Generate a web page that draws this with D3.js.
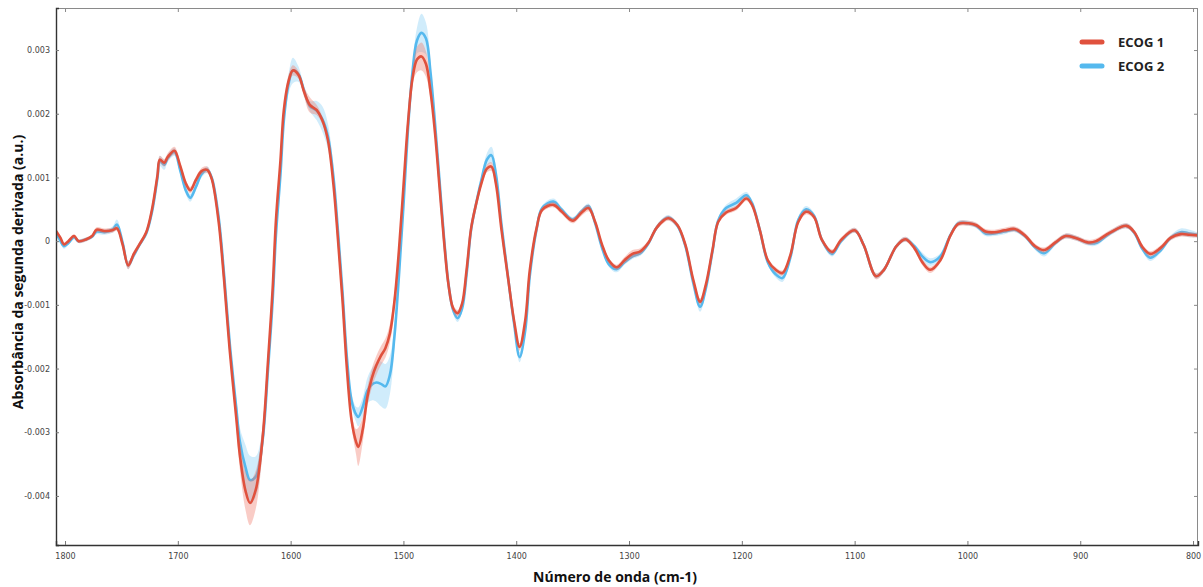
<!DOCTYPE html>
<html>
<head>
<meta charset="utf-8">
<script src="https://cdn.jsdelivr.net/npm/d3@7"></script>
<style>
  html, body { margin: 0; padding: 0; background: #fff; }
  svg { display: block; }
</style>
</head>
<body>
<svg id="chart" width="1203" height="587"></svg>
<script>
// Second-derivative FTIR spectra, mean ± SD for two groups (values in 10⁻³ a.u.)
const wavenumbers = [
  1808,1804,1801,1797,1792,1788,1781,1776,1772,1765,
  1758,1754,1749,1744,1739,1734,1728,1723,1718,1716,
  1712,1709,1703,1698,1693,1689,1684,1679,1674,1670,
  1664,1659,1654,1648,1645,1640,1636,1631,1625,1620,
  1616,1613,1609,1606,1602,1598,1593,1588,1583,1577,
  1572,1567,1562,1558,1554,1550,1546,1542,1540,1536,
  1532,1528,1524,1520,1516,1512,1508,1504,1500,1496,
  1492,1488,1484,1480,1476,1472,1468,1464,1460,1456,
  1452,1448,1444,1440,1436,1431,1426,1422,1418,1413,
  1407,1402,1397,1392,1388,1382,1377,1367,1360,1350,
  1342,1336,1330,1324,1318,1311,1304,1297,1290,1283,
  1276,1269,1265,1257,1250,1243,1237,1232,1226,1221,
  1214,1205,1196,1191,1184,1177,1170,1164,1157,1150,
  1143,1136,1129,1120,1112,1100,1092,1081,1074,1063,
  1055,1047,1040,1033,1024,1015,1008,999,992,984,
  976,967,958,949,940,932,922,913,904,893,
  886,874,859,852,845,838,829,820,811,803,
  796
];

const ecog1 = [
  0.16,0.05,-0.05,0.00,0.08,0.00,0.03,0.08,0.18,0.16,
  0.17,0.20,-0.05,-0.38,-0.20,-0.05,0.14,0.49,1.04,1.28,
  1.23,1.32,1.42,1.19,0.91,0.80,0.96,1.10,1.12,0.98,
  0.33,-0.61,-1.71,-2.81,-3.36,-3.92,-4.11,-3.91,-3.12,-1.87,
  -0.77,0.33,1.27,2.06,2.50,2.68,2.61,2.34,2.14,2.06,
  1.90,1.59,0.88,0.02,-0.93,-2.03,-2.81,-3.15,-3.23,-2.95,
  -2.45,-2.15,-1.95,-1.80,-1.68,-1.45,-0.95,-0.15,0.85,1.85,
  2.55,2.85,2.90,2.78,2.35,1.70,0.85,0.00,-0.69,-1.05,
  -1.13,-0.98,-0.45,0.20,0.55,0.90,1.14,1.17,0.90,0.17,
  -0.61,-1.24,-1.66,-1.24,-0.46,0.20,0.49,0.57,0.47,0.32,
  0.45,0.52,0.30,-0.05,-0.30,-0.41,-0.30,-0.20,-0.16,-0.03,
  0.20,0.33,0.36,0.25,-0.06,-0.61,-0.95,-0.69,-0.14,0.30,
  0.45,0.52,0.67,0.57,0.17,-0.30,-0.45,-0.50,-0.22,0.30,
  0.46,0.38,0.02,-0.17,0.02,0.17,-0.06,-0.55,-0.45,-0.08,
  0.03,-0.11,-0.33,-0.45,-0.30,0.09,0.27,0.28,0.25,0.15,
  0.14,0.17,0.19,0.09,-0.08,-0.14,-0.02,0.08,0.05,-0.02,
  0.00,0.13,0.24,0.14,-0.09,-0.20,-0.11,0.05,0.11,0.10,
  0.09
];

const ecog2 = [
  0.14,0.00,-0.08,-0.03,0.06,0.00,0.03,0.07,0.15,0.14,
  0.18,0.26,-0.02,-0.38,-0.22,-0.06,0.12,0.45,1.00,1.26,
  1.20,1.30,1.40,1.12,0.80,0.68,0.85,1.05,1.12,1.00,
  0.40,-0.52,-1.60,-2.65,-3.15,-3.55,-3.75,-3.70,-3.15,-2.00,
  -0.95,0.10,1.05,1.90,2.45,2.68,2.62,2.36,2.12,2.05,
  1.92,1.65,1.00,0.15,-0.80,-1.85,-2.50,-2.72,-2.76,-2.60,
  -2.35,-2.25,-2.22,-2.24,-2.28,-2.10,-1.50,-0.55,0.55,1.75,
  2.65,3.15,3.27,3.18,2.65,1.85,0.95,0.05,-0.68,-1.08,
  -1.21,-1.06,-0.52,0.18,0.55,0.95,1.28,1.35,1.05,0.25,
  -0.60,-1.28,-1.82,-1.40,-0.55,0.18,0.52,0.62,0.50,0.34,
  0.47,0.55,0.28,-0.10,-0.36,-0.44,-0.33,-0.24,-0.19,-0.04,
  0.20,0.34,0.37,0.24,-0.08,-0.66,-1.03,-0.75,-0.16,0.32,
  0.52,0.60,0.72,0.60,0.17,-0.33,-0.52,-0.58,-0.26,0.33,
  0.50,0.40,0.02,-0.20,0.00,0.17,-0.06,-0.55,-0.45,-0.08,
  0.03,-0.08,-0.24,-0.33,-0.24,0.10,0.28,0.28,0.24,0.12,
  0.12,0.15,0.18,0.08,-0.10,-0.19,-0.03,0.08,0.05,-0.03,
  -0.03,0.12,0.24,0.13,-0.12,-0.26,-0.15,0.05,0.14,0.12,
  0.10
];

const ecog1Sd = [
  0.03,0.03,0.03,0.03,0.03,0.03,0.03,0.03,0.04,0.04,
  0.04,0.04,0.05,0.06,0.05,0.04,0.04,0.05,0.06,0.06,
  0.06,0.06,0.06,0.05,0.05,0.05,0.05,0.05,0.05,0.05,
  0.06,0.08,0.10,0.15,0.22,0.30,0.35,0.30,0.20,0.12,
  0.10,0.10,0.10,0.10,0.10,0.08,0.06,0.08,0.12,0.08,
  0.06,0.06,0.06,0.06,0.08,0.08,0.10,0.20,0.30,0.20,
  0.15,0.15,0.15,0.15,0.15,0.15,0.15,0.12,0.08,0.08,
  0.10,0.20,0.22,0.20,0.12,0.08,0.06,0.05,0.05,0.05,
  0.05,0.05,0.05,0.05,0.05,0.05,0.06,0.07,0.06,0.05,
  0.05,0.05,0.06,0.05,0.05,0.04,0.04,0.04,0.04,0.04,
  0.05,0.05,0.04,0.04,0.04,0.04,0.05,0.06,0.05,0.04,
  0.04,0.04,0.04,0.04,0.04,0.05,0.05,0.05,0.04,0.04,
  0.04,0.04,0.04,0.04,0.04,0.04,0.04,0.04,0.04,0.04,
  0.04,0.04,0.04,0.04,0.04,0.04,0.04,0.05,0.04,0.04,
  0.04,0.04,0.05,0.05,0.04,0.04,0.04,0.04,0.04,0.04,
  0.04,0.04,0.04,0.04,0.04,0.04,0.04,0.04,0.04,0.04,
  0.04,0.04,0.04,0.04,0.04,0.04,0.04,0.04,0.04,0.04,
  0.04
];

const ecog2Sd = [
  0.03,0.04,0.04,0.03,0.03,0.03,0.03,0.03,0.04,0.04,
  0.05,0.08,0.05,0.06,0.05,0.04,0.04,0.05,0.06,0.08,
  0.08,0.06,0.06,0.06,0.06,0.06,0.05,0.05,0.05,0.05,
  0.06,0.08,0.10,0.15,0.22,0.35,0.38,0.32,0.20,0.12,
  0.10,0.10,0.10,0.12,0.15,0.20,0.12,0.06,0.08,0.15,
  0.20,0.20,0.15,0.10,0.08,0.08,0.10,0.12,0.15,0.15,
  0.20,0.25,0.30,0.35,0.35,0.30,0.20,0.12,0.08,0.08,
  0.12,0.20,0.30,0.25,0.15,0.10,0.06,0.05,0.05,0.06,
  0.06,0.05,0.05,0.05,0.05,0.06,0.10,0.13,0.10,0.06,
  0.05,0.06,0.08,0.06,0.05,0.04,0.04,0.05,0.04,0.04,
  0.04,0.04,0.04,0.04,0.04,0.05,0.04,0.04,0.04,0.04,
  0.04,0.04,0.04,0.04,0.04,0.05,0.08,0.06,0.04,0.04,
  0.05,0.07,0.05,0.04,0.04,0.04,0.05,0.06,0.04,0.05,
  0.05,0.04,0.04,0.04,0.04,0.04,0.04,0.04,0.04,0.04,
  0.04,0.04,0.06,0.06,0.05,0.04,0.04,0.04,0.04,0.04,
  0.04,0.04,0.04,0.04,0.04,0.05,0.04,0.04,0.04,0.04,
  0.04,0.04,0.04,0.04,0.04,0.05,0.04,0.04,0.06,0.06,
  0.04
];

const seriesNames = ["ECOG 1", "ECOG 2"];
const xTickValues = [1800, 1700, 1600, 1500, 1400, 1300, 1200, 1100, 1000, 900, 800];
const yTickValues = [-4, -3, -2, -1, 0, 1, 2, 3];
const yTickLabels = ["-0.004", "-0.003", "-0.002", "-0.001", "0", "0.001", "0.002", "0.003"];

const colors = {
  "ECOG 1": { line: "#e0513d", band: "rgba(238,120,105,0.38)" },
  "ECOG 2": { line: "#55b9ee", band: "rgba(110,195,242,0.32)" }
};

const svg = d3.select("#chart");
const plot = { left: 56, right: 1198, top: 8, bottom: 545 };

const x = d3.scaleLinear().domain([1808, 795.6]).range([plot.left, plot.right]);
const y = d3.scaleLinear().domain([-4.77, 3.66]).range([plot.bottom, plot.top]);

const build = (vals, sds) => wavenumbers.map((w, i) => ({ w, v: vals[i], sd: sds[i] }));
const series = [
  { name: "ECOG 2", data: build(ecog2, ecog2Sd) },
  { name: "ECOG 1", data: build(ecog1, ecog1Sd) }
];

svg.append("defs").append("clipPath").attr("id", "plot-clip")
  .append("rect")
  .attr("x", plot.left).attr("y", plot.top)
  .attr("width", plot.right - plot.left).attr("height", plot.bottom - plot.top);

const curve = d3.curveCatmullRom.alpha(0.5);
const line = d3.line().x(d => x(d.w)).y(d => y(d.v)).curve(curve);
const band = d3.area().x(d => x(d.w)).y0(d => y(d.v - d.sd)).y1(d => y(d.v + d.sd)).curve(curve);

const g = svg.append("g").attr("clip-path", "url(#plot-clip)");
series.forEach(s => {
  g.append("path").attr("d", band(s.data)).attr("fill", colors[s.name].band).attr("stroke", "none");
  g.append("path").attr("d", line(s.data)).attr("fill", "none")
    .attr("stroke", colors[s.name].line).attr("stroke-width", 2.6)
    .attr("stroke-linejoin", "round").attr("stroke-linecap", "round");
});

// Frame
svg.append("line").attr("x1", plot.left).attr("x2", plot.right).attr("y1", plot.top + 0.5).attr("y2", plot.top + 0.5)
  .attr("stroke", "#8a8a8a").attr("stroke-width", 1);
svg.append("line").attr("x1", plot.right - 0.5).attr("x2", plot.right - 0.5).attr("y1", plot.top).attr("y2", plot.bottom)
  .attr("stroke", "#8a8a8a").attr("stroke-width", 1);

// Bottom axis with inward ticks
const xAxis = svg.append("g").attr("transform", `translate(0,${plot.bottom})`)
  .call(d3.axisBottom(x).tickValues(xTickValues).tickSize(-4).tickPadding(8).tickFormat(d3.format("d")));
xAxis.select(".domain").attr("stroke", "#333").attr("stroke-width", 1.4);
xAxis.selectAll(".tick line").attr("stroke", "#777");
xAxis.selectAll(".tick text").attr("font-family", "'DejaVu Sans', sans-serif").attr("font-size", 8).attr("fill", "#444");

// Left axis with inward ticks
const yAxis = svg.append("g").attr("transform", `translate(${plot.left},0)`)
  .call(d3.axisLeft(y).tickValues(yTickValues).tickSize(-3).tickPadding(6)
    .tickFormat((d, i) => yTickLabels[i]));
yAxis.select(".domain").attr("stroke", "#333").attr("stroke-width", 1.4);
yAxis.selectAll(".tick line").attr("stroke", "#777");
yAxis.selectAll(".tick text").attr("font-family", "'DejaVu Sans', sans-serif").attr("font-size", 8).attr("fill", "#444");

// Mirrored ticks on top and right edges
svg.append("g").selectAll("line").data(xTickValues).join("line")
  .attr("x1", d => x(d) + 0.5).attr("x2", d => x(d) + 0.5)
  .attr("y1", plot.top).attr("y2", plot.top + 4).attr("stroke", "#8a8a8a");
svg.append("g").selectAll("line").data(yTickValues).join("line")
  .attr("x1", plot.right - 4).attr("x2", plot.right)
  .attr("y1", d => y(d) + 0.5).attr("y2", d => y(d) + 0.5).attr("stroke", "#8a8a8a");

// Axis titles
svg.append("text")
  .attr("x", 615).attr("y", 582)
  .attr("text-anchor", "middle")
  .attr("font-family", "'Open Sans', sans-serif").attr("font-weight", 700).attr("font-size", 14)
  .attr("fill", "#111")
  .text("Número de onda (cm-1)");

svg.append("text")
  .attr("transform", "translate(23,272) rotate(-90)")
  .attr("text-anchor", "middle")
  .attr("font-family", "'Open Sans', sans-serif").attr("font-weight", 700).attr("font-size", 14)
  .attr("fill", "#111")
  .text("Absorbância da segunda derivada (a.u.)");

// Legend
const legend = svg.append("g").attr("transform", "translate(1080,42)");
seriesNames.forEach((name, i) => {
  const row = legend.append("g").attr("transform", `translate(0,${i * 24})`);
  row.append("line").attr("x1", 2).attr("x2", 22).attr("y1", 0).attr("y2", 0)
    .attr("stroke", colors[name].line).attr("stroke-width", 5).attr("stroke-linecap", "round");
  row.append("text").attr("x", 38).attr("y", 5)
    .attr("font-family", "'Open Sans', sans-serif").attr("font-weight", 700).attr("font-size", 13)
    .attr("fill", "#222")
    .text(name);
});
</script>
</body>
</html>
